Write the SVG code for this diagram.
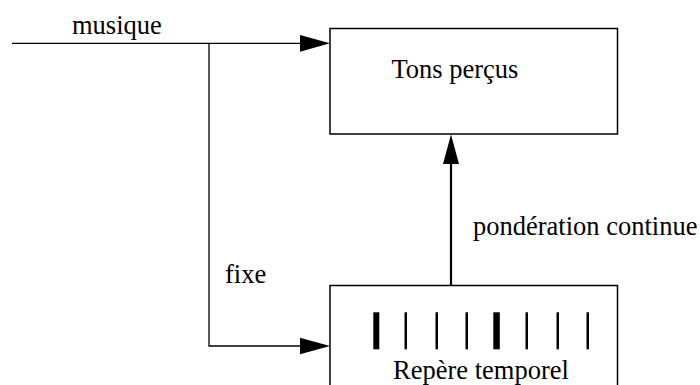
<svg xmlns="http://www.w3.org/2000/svg" width="700" height="385" viewBox="0 0 700 385">
  <style>
    .box { fill: #fff; stroke: #000; stroke-width: 1.5; }
    .wire { fill: none; stroke: #000; stroke-width: 1.3; }
    .thick { fill: none; stroke: #000; stroke-width: 2.2; }
    .label { font-family: 'Liberation Serif', 'DejaVu Serif', 'Times New Roman', Times, serif; font-size: 26.5px; fill: #000; }
    .tick { fill: #000; }
  </style>
  <rect width="700" height="385" fill="#fff"/>

  <!-- connectors -->
  <g id="connectors">
    <!-- musique input, split to both boxes -->
    <path class="wire" d="M12 43.3 H301"/>
    <polygon points="300,35 330,43.3 300,51.7" fill="#000"/>
    <path class="wire" d="M209 43.3 V346 H301"/>
    <polygon points="300,337.7 330,346 300,354.3" fill="#000"/>
    <!-- weighting link from time reference to perceived tones -->
    <path class="thick" d="M451 285.5 V160"/>
    <polygon points="451,134.5 443,164 459,164" fill="#000"/>
  </g>

  <g id="node-tons">
    <rect class="box" x="330" y="28.5" width="287.5" height="105.5"/>
    <text class="label" x="391.5" y="77.7">Tons perçus</text>
  </g>

  <g id="node-repere">
    <rect class="box" x="330" y="285.5" width="287.5" height="115"/>
    <rect class="tick" x="373.3" y="312.3" width="6" height="37"/>
    <rect class="tick" x="404.5" y="312.3" width="2.5" height="37"/>
    <rect class="tick" x="435.5" y="312.3" width="2.5" height="37"/>
    <rect class="tick" x="465.5" y="312.3" width="2.5" height="37"/>
    <rect class="tick" x="493.3" y="312.3" width="6.5" height="37"/>
    <rect class="tick" x="525.5" y="312.3" width="2.5" height="37"/>
    <rect class="tick" x="556.5" y="312.3" width="2.5" height="37"/>
    <rect class="tick" x="586.5" y="312.3" width="2.5" height="37"/>
    <text class="label" x="393" y="379">Repère temporel</text>
  </g>

  <g id="labels">
    <text class="label" x="72" y="34">musique</text>
    <text class="label" x="225" y="283">fixe</text>
    <text class="label" x="473" y="235">pondération continue</text>
  </g>
</svg>
